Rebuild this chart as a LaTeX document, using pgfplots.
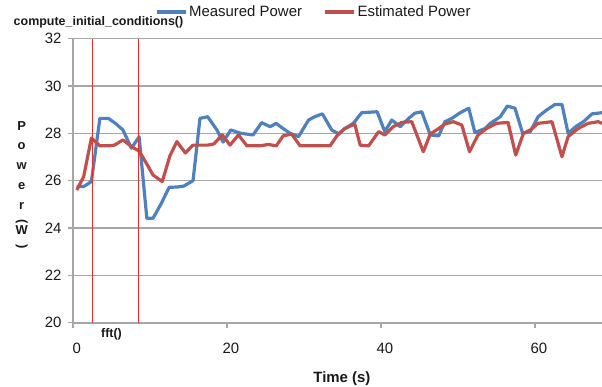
\documentclass[border=0pt]{standalone}
\usepackage{pgfplots}
\pgfplotsset{compat=1.18}
\usepackage{graphicx}
\usepackage{fontspec}
\setmainfont{Liberation Sans}
\definecolor{mblue}{RGB}{79,129,189}
\definecolor{mred}{RGB}{192,80,77}
\definecolor{gridgray}{RGB}{166,166,166}
\definecolor{vred}{RGB}{232,45,45}
\begin{document}
\begin{tikzpicture}
\begin{axis}[
  name=ax, scale only axis, width=529.1bp, height=284.1bp,
  xmin=0, xmax=68.7, ymin=20, ymax=32,
  axis x line=bottom, axis y line=left,
  axis line style={-, draw=gridgray, line width=1.6bp},
  xtick={0,20,40,60}, ytick={20,22,...,32},
  ymajorgrids, grid style={draw=gridgray, line width=1.3bp},
  tick align=outside, major tick length=5bp,
  tick style={draw=gridgray, line width=1.3bp},
  ticklabel style={font=\fontsize{15}{18}\selectfont, text=black!90},
  /pgf/number format/assume math mode=true,
  yticklabel style={xshift=-3bp},
  xticklabel style={yshift=-12bp, xshift=4bp},
  legend columns=2,
  legend style={draw=none, fill=none, at={(axis description cs:0.155,1.094)}, anchor=west,
    font=\fontsize{15}{18}\selectfont, inner sep=0pt,
    /tikz/every even column/.append style={column sep=20bp},
    nodes={inner sep=1.5bp, text=black!90}},
  legend image code/.code={\draw[#1, line width=3.5bp] (0bp,0bp) -- (29bp,0bp);},
]
\coordinate (O) at (rel axis cs:0,0);
\addplot[mblue, line width=3.2bp, line join=round] coordinates {
(0.5,25.75) (1.4,25.75) (2.4,25.96) (3.5,28.63) (4.6,28.63) (5.6,28.4) (6.5,28.14)
(7.6,27.37) (8.6,27.85) (9.6,24.41) (10.4,24.41) (11.5,25.05) (12.5,25.72) (13.5,25.73)
(14.4,25.77) (15.6,26.0) (16.5,28.63) (17.5,28.7) (18.7,28.14) (19.5,27.63) (20.5,28.14)
(21.8,28.0) (23.4,27.93) (24.5,28.45) (25.6,28.28) (26.4,28.42) (27.3,28.2) (28.2,28.0)
(29.3,27.86) (30.6,28.56) (31.4,28.7) (32.4,28.82) (33.6,28.14) (34.5,27.98) (35.3,28.2)
(36.4,28.42) (37.5,28.87) (39.5,28.91) (40.5,28.07) (41.4,28.56) (42.5,28.28) (43.6,28.63)
(44.4,28.85) (45.3,28.91) (46.4,27.93) (47.5,27.89) (48.3,28.49) (49.2,28.63) (50.3,28.87)
(51.4,29.06) (52.2,28.03) (53.5,28.2) (54.2,28.42) (55.5,28.7) (56.4,29.15) (57.4,29.06)
(58.4,28.0) (59.4,28.07) (60.4,28.7) (61.5,28.98) (62.6,29.22) (63.5,29.22) (64.3,28.0)
(65.4,28.31) (66.3,28.49) (67.4,28.82) (68.7,28.87)
};
\addlegendentry{Measured Power}
\addplot[mred, line width=3.2bp, line join=round] coordinates {
(0.5,25.6) (1.4,26.17) (2.4,27.8) (3.5,27.47) (4.6,27.47) (5.4,27.5) (6.5,27.72)
(7.6,27.44) (8.6,27.25) (9.6,26.7) (10.4,26.24) (11.6,25.96) (12.6,27.05) (13.5,27.65)
(14.6,27.17) (15.6,27.5) (16.5,27.5) (17.5,27.5) (18.3,27.55) (19.4,27.93) (20.4,27.5)
(21.5,27.93) (22.6,27.47) (24.3,27.47) (25.4,27.53) (26.4,27.47) (27.3,27.89) (28.4,27.97)
(29.5,27.47) (30.6,27.47) (31.4,27.47) (32.4,27.47) (33.4,27.47) (34.3,27.9) (35.3,28.2)
(36.6,28.39) (37.3,27.5) (38.4,27.47) (39.7,28.07) (40.5,27.93) (41.6,28.28) (42.7,28.46)
(44.0,28.49) (45.5,27.22) (46.4,27.97) (47.5,28.2) (48.3,28.39) (49.4,28.49) (50.5,28.35)
(51.5,27.22) (52.6,27.93) (53.7,28.2) (55.0,28.42) (56.5,28.46) (57.5,27.08) (58.5,28.0)
(59.4,28.14) (60.4,28.42) (62.2,28.49) (63.5,27.01) (64.3,27.86) (65.6,28.2) (66.9,28.42)
(68.2,28.49) (68.7,28.42)
};
\addlegendentry{Estimated Power}
\addplot[vred, line width=0.9bp, forget plot] coordinates {(2.5,20) (2.5,32)};
\addplot[vred, line width=0.9bp, forget plot] coordinates {(8.45,20) (8.45,32)};
\end{axis}
\node[font=\bfseries\fontsize{12.5}{15}\selectfont, text=black!90] at ([shift={(25.6bp,300.7bp)}]O) {compute\_initial\_conditions()};
\node[font=\bfseries\fontsize{12.5}{15}\selectfont, text=black!90] at ([shift={(38.6bp,-11.3bp)}]O) {fft()};
\node[font=\bfseries\fontsize{15}{18}\selectfont, text=black!90] at ([shift={(269bp,-56.3bp)}]O) {Time (s)};
\node[align=center, font=\bfseries\fontsize{13}{20}\selectfont, text=black!90] at ([shift={(-51.2bp,137.7bp)}]O)
  {P\\o\\w\\e\\r\\[-10bp]\rotatebox{-90}{(}\\[-5bp]W\\[-10bp]\rotatebox{-90}{)}};
\pgfresetboundingbox
\path ([shift={(-72.9bp,-64.3bp)}]O) rectangle ++(602bp,387bp);
\end{tikzpicture}
\end{document}
